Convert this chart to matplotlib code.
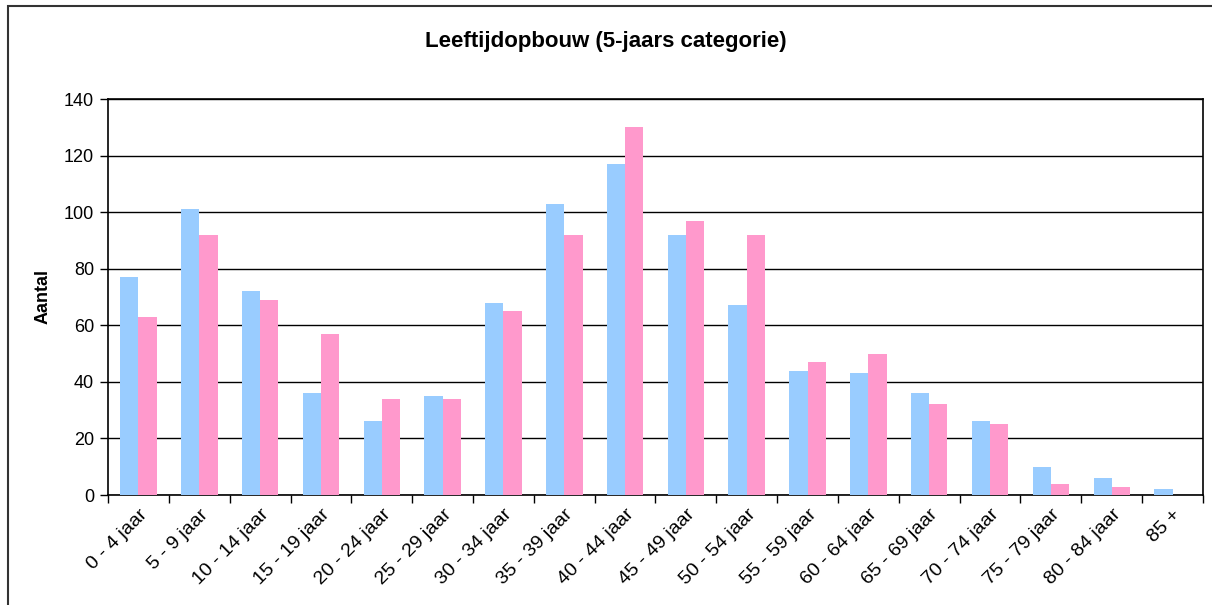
import numpy as np
import matplotlib.pyplot as plt
from matplotlib.patches import Rectangle

# Data
categories = ["0 - 4 jaar", "5 - 9 jaar", "10 - 14 jaar", "15 - 19 jaar",
              "20 - 24 jaar", "25 - 29 jaar", "30 - 34 jaar", "35 - 39 jaar",
              "40 - 44 jaar", "45 - 49 jaar", "50 - 54 jaar", "55 - 59 jaar",
              "60 - 64 jaar", "65 - 69 jaar", "70 - 74 jaar", "75 - 79 jaar",
              "80 - 84 jaar", "85 +"]
mannen = [77, 101, 72, 36, 26, 35, 68, 103, 117, 92, 67, 44, 43, 36, 26, 10, 6, 2]
vrouwen = [63, 92, 69, 57, 34, 34, 65, 92, 130, 97, 92, 47, 50, 32, 25, 4, 3, 0]
y_ticks = [0, 20, 40, 60, 80, 100, 120, 140]

plt.rcParams['font.family'] = ['Liberation Sans', 'DejaVu Sans']

fig = plt.figure(figsize=(12.12, 6.05), dpi=100)
ax = fig.add_axes([108 / 1212, 1 - 495 / 605, (1203 - 108) / 1212, (495 - 99) / 605])

x = np.arange(len(categories))
w = 0.3
ax.bar(x - w / 2, mannen, width=w, color="#99CCFF", zorder=3)
ax.bar(x + w / 2, vrouwen, width=w, color="#FF99CC", zorder=3)

ax.set_xlim(-0.5, len(categories) - 0.5)
ax.set_ylim(0, 140)
ax.set_yticks(y_ticks)
ax.tick_params(axis="y", labelsize=13, length=6, width=1, direction="out", pad=4)

# ticks on category boundaries, labels in the middle
ax.set_xticks(np.arange(len(categories) + 1) - 0.5)
ax.set_xticklabels([])
ax.set_xticks(x, minor=True)
ax.set_xticklabels(categories, minor=True, rotation=45, ha="right",
                   rotation_mode="anchor", fontsize=14)
ax.tick_params(axis="x", which="major", length=6, width=1, direction="out")
ax.tick_params(axis="x", which="minor", length=0, pad=8)

ax.grid(axis="y", color="black", linewidth=1, zorder=0)
for s in ax.spines.values():
    s.set_color("black")
    s.set_linewidth(1.2)

ax.set_ylabel("Aantal", fontsize=13, fontweight="bold")
ax.yaxis.set_label_coords((52 - 108) / 1095, 0.5)
fig.text(0.5, 1 - 42 / 605, "Leeftijdopbouw (5-jaars categorie)",
         ha="center", va="center", fontsize=16, fontweight="bold")

# chart area border
fig.patches.append(Rectangle((8 / 1212, -0.1), 1.2, 1 - 6 / 605 + 0.1,
                             transform=fig.transFigure, fill=False,
                             edgecolor="#333333", linewidth=1.5))

fig.savefig("out.png", dpi=100)
